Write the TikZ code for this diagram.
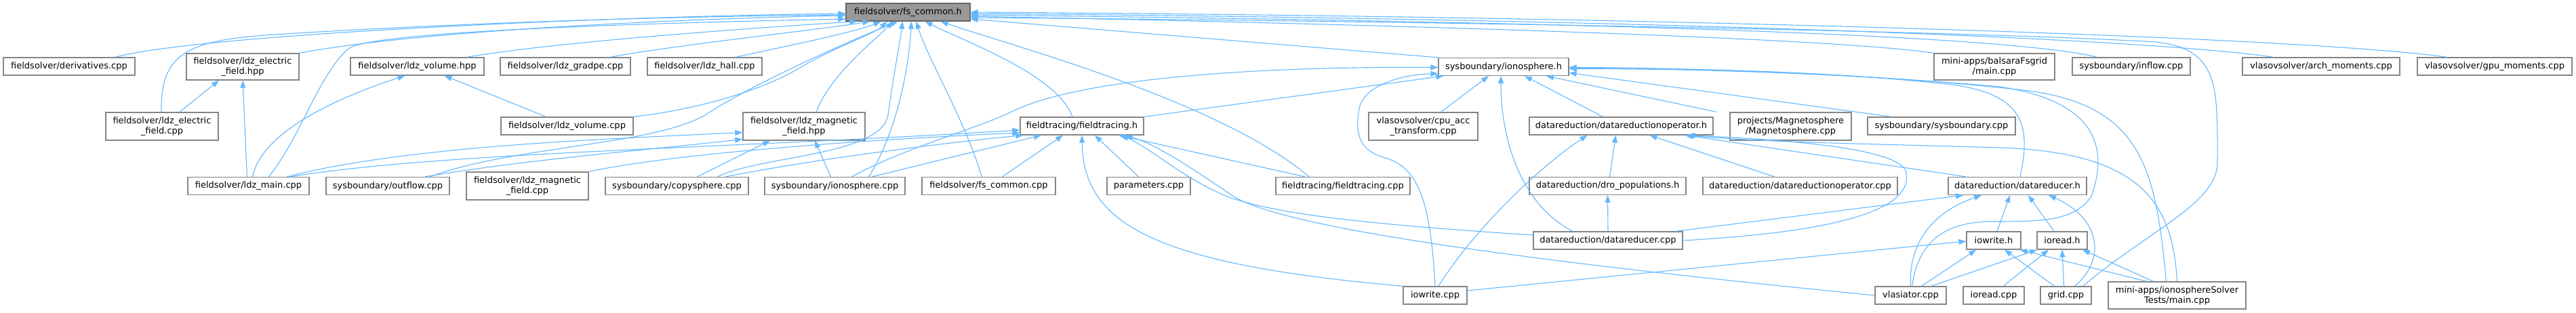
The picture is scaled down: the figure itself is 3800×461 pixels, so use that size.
\documentclass[tikz,border=0pt]{standalone}
\usepackage{fontspec}
\setmainfont{DejaVu Sans}
\usetikzlibrary{arrows.meta}
\definecolor{edgec}{HTML}{63B8FF}
\definecolor{boxb}{HTML}{858585}
\definecolor{rootf}{HTML}{999999}
\definecolor{rootb}{HTML}{666666}
\newcommand{\dxnode}[6]{\node[#1,minimum width=#2pt,minimum height=#3pt] (#4) at (#5) {#6};}
\begin{document}
\begin{tikzpicture}[x=1pt,y=-1pt,
  nd/.style={draw=boxb,line width=1.3pt,fill=white,inner sep=0pt,align=center,font=\fontsize{13}{15}\selectfont},
  rt/.style={nd,fill=rootf,draw=rootb},
  e/.style={draw=edgec,line width=1.1pt,-{Triangle[length=11pt,width=8pt]}}]
\useasboundingbox (0,0) rectangle (3800,461);
\fill[white] (0,0) rectangle (3800,461);
% rank 0
\dxnode{rt}{183}{26}{R}{1339.5,18}{fieldsolver/fs\_common.h}
% rank 1
\dxnode{nd}{194}{26}{d1}{102,98}{fieldsolver/derivatives.cpp}
\dxnode{nd}{166}{39}{d2}{358,98.5}{fieldsolver/ldz\_electric\\\_field.hpp}
\dxnode{nd}{197}{26}{d3}{615.5,98}{fieldsolver/ldz\_volume.hpp}
\dxnode{nd}{192}{26}{d4}{834,98}{fieldsolver/ldz\_gradpe.cpp}
\dxnode{nd}{169}{26}{d5}{1039.5,98}{fieldsolver/ldz\_hall.cpp}
\dxnode{nd}{192}{26}{ioh}{2218,98.5}{sysboundary/ionosphere.h}
\dxnode{nd}{178}{39}{bal}{2942,98.5}{mini-apps/balsaraFsgrid\\/main.cpp}
\dxnode{nd}{174}{26}{inf}{3144,98}{sysboundary/inflow.cpp}
\dxnode{nd}{232}{26}{arch}{3424,98}{vlasovsolver/arch\_moments.cpp}
\dxnode{nd}{228}{26}{gpu}{3680,98}{vlasovsolver/gpu\_moments.cpp}
% rank 2
\dxnode{nd}{166}{41}{efc}{239,186.5}{fieldsolver/ldz\_electric\\\_field.cpp}
\dxnode{nd}{195}{26}{volc}{836.5,186}{fieldsolver/ldz\_volume.cpp}
\dxnode{nd}{180}{41}{mfh}{1186,186.5}{fieldsolver/ldz\_magnetic\\\_field.hpp}
\dxnode{nd}{182}{26}{fth}{1596,186}{fieldtracing/fieldtracing.h}
\dxnode{nd}{161}{41}{cpu}{2099.5,186.5}{vlasovsolver/cpu\_acc\\\_transform.cpp}
\dxnode{nd}{271}{26}{droh}{2391.5,186}{datareduction/datareductionoperator.h}
\dxnode{nd}{179}{41}{mag}{2641.5,186.5}{projects/Magnetosphere\\/Magnetosphere.cpp}
\dxnode{nd}{218}{26}{sbc}{2864,186}{sysboundary/sysboundary.cpp}
% rank 3
\dxnode{nd}{179}{26}{main}{366.5,274.5}{fieldsolver/ldz\_main.cpp}
\dxnode{nd}{182}{26}{outf}{572,274.5}{sysboundary/outflow.cpp}
\dxnode{nd}{180}{41}{mfc}{778,274.5}{fieldsolver/ldz\_magnetic\\\_field.cpp}
\dxnode{nd}{211}{26}{copy}{998.5,274.5}{sysboundary/copysphere.cpp}
\dxnode{nd}{207}{26}{ionc}{1231.5,274.5}{sysboundary/ionosphere.cpp}
\dxnode{nd}{197}{26}{fsc}{1458.5,274.5}{fieldsolver/fs\_common.cpp}
\dxnode{nd}{123}{26}{par}{1694.5,274.5}{parameters.cpp}
\dxnode{nd}{198}{26}{ftc}{1981,274.5}{fieldtracing/fieldtracing.cpp}
\dxnode{nd}{231}{26}{pop}{2371.5,274.5}{datareduction/dro\_populations.h}
\dxnode{nd}{287}{26}{droc}{2655.5,274.5}{datareduction/datareductionoperator.cpp}
\dxnode{nd}{204}{26}{drh}{2976,274.5}{datareduction/datareducer.h}
% rank 4
\dxnode{nd}{220}{26}{drc}{2372,355}{datareduction/datareducer.cpp}
\dxnode{nd}{80}{26}{iwh}{2941,355}{iowrite.h}
\dxnode{nd}{74}{26}{irh}{3042,355}{ioread.h}
% rank 5
\dxnode{nd}{94}{26}{iwc}{2117,436}{iowrite.cpp}
\dxnode{nd}{105}{26}{vla}{2818.5,436}{vlasiator.cpp}
\dxnode{nd}{90}{26}{irc}{2941,436}{ioread.cpp}
\dxnode{nd}{75}{26}{grid}{3047.5,436}{grid.cpp}
\dxnode{nd}{203}{40}{tst}{3211.5,436}{mini-apps/ionosphereSolver\\Tests/main.cpp}
% ---- edges to root
\draw[e] ([xshift=68pt]d1.north) .. controls (300,50) and (900,24) .. ([yshift=-2pt]R.west);
\draw[e] (d2.north east) .. controls (620,45) and (1000,28) .. ([yshift=-5pt]R.west);
\draw[e] ([xshift=-1pt]efc.north) .. controls (236,75) and (280,58) .. (420,50) .. controls (700,33) and (1000,24) .. ([yshift=-4pt]R.west);
\draw[e] ([xshift=30pt]main.north) .. controls (445,200) and (470,110) .. (514,72) .. controls (545,45) and (1000,33) .. ([yshift=-10pt]R.west);
\draw[e] ([xshift=73pt]d3.north) .. controls (820,62) and (1100,42) .. ([xshift=-75pt]R.south);
\draw[e] ([xshift=66pt]d4.north) .. controls (1000,66) and (1200,45) .. ([xshift=-56pt]R.south);
\draw[e] ([xshift=46pt]d5.north) .. controls (1150,70) and (1260,48) .. ([xshift=-40pt]R.south);
\draw[e] (volc.north east) .. controls (1040,160) and (1130,130) .. (1180,100) .. controls (1230,70) and (1290,50) .. ([xshift=-31pt]R.south);
\draw[e] ([xshift=18pt]mfh.north) .. controls (1225,110) and (1290,60) .. ([xshift=-22pt]R.south);
\draw[e] ([xshift=62pt]outf.north) .. controls (760,215) and (960,215) .. (1040,170) .. controls (1100,130) and (1230,70) .. ([xshift=-15pt]R.south);
\draw[e] ([xshift=60pt]copy.north) .. controls (1120,230) and (1300,230) .. (1310,170) .. controls (1318,110) and (1328,60) .. ([xshift=-8pt]R.south);
\draw[e] ([xshift=50pt]ionc.north) .. controls (1320,200) and (1340,110) .. ([xshift=5pt]R.south);
\draw[e] ([xshift=-10pt]fsc.north) .. controls (1420,170) and (1370,90) .. ([xshift=12pt]R.south);
\draw[e] ([xshift=-14pt]fth.north) .. controls (1560,110) and (1420,60) .. ([xshift=25pt]R.south);
\draw[e] ([xshift=-50pt]ftc.north) .. controls (1800,150) and (1500,70) .. ([xshift=48pt]R.south);
\draw[e] (ioh.north west) -- ([yshift=-10pt]R.east);
\draw[e] (bal.north west) .. controls (2700,55) and (2000,35) .. ([yshift=-6pt]R.east);
\draw[e] ([xshift=-50pt]inf.north) .. controls (2950,50) and (2300,32) .. ([yshift=-4pt]R.east);
\draw[e] ([xshift=-70pt]arch.north) .. controls (3150,55) and (2400,28) .. ([yshift=-2pt]R.east);
\draw[e] ([xshift=-70pt]gpu.north) .. controls (3400,55) and (2500,25) .. ([yshift=0pt]R.east);
\draw[e] ([xshift=25pt]grid.north) .. controls (3170,340) and (3271,300) .. (3271,240) .. controls (3271,130) and (3275,72) .. (3180,62) .. controls (2900,45) and (2000,30) .. ([yshift=-8pt]R.east);
% ---- d2, d3
\draw[e] ([xshift=26pt]efc.north) -- ([xshift=-35pt]d2.south);
\draw[e] ([xshift=-2pt]main.north) -- ([xshift=0pt]d2.south);
\draw[e] ([xshift=-31pt]volc.north) -- ([xshift=40pt]d3.south);
\draw[e] ([xshift=6pt]main.north) .. controls (385,200) and (480,150) .. ([xshift=-18pt]d3.south);
% ---- mfh
\draw[e] ([xshift=57pt]main.north) .. controls (600,215) and (900,205) .. ([yshift=-9pt]mfh.west);
\draw[e] ([xshift=55pt]outf.north) .. controls (780,235) and (950,222) .. ([yshift=-19pt]mfh.west);
\draw[e] ([xshift=30pt]copy.north) -- ([xshift=-50pt]mfh.south);
\draw[e] ([xshift=-6pt]ionc.north) -- ([xshift=16pt]mfh.south);
% ---- fth
\draw[e] ([xshift=62pt]main.north) .. controls (650,225) and (1050,220) .. ([yshift=-6pt]fth.west);
\draw[e] (mfc.north east) .. controls (1000,225) and (1300,205) .. ([yshift=-10pt]fth.west);
\draw[e] ([xshift=72pt]copy.north) .. controls (1200,235) and (1400,210) .. ([xshift=5pt]fth.south west);
\draw[e] ([xshift=55pt]ionc.north) -- ([xshift=-60pt]fth.south);
\draw[e] ([xshift=20pt]fsc.north) -- ([xshift=-28pt]fth.south);
\draw[e] ([xshift=-15pt]par.north) -- ([xshift=19pt]fth.south);
\draw[e] ([xshift=-56pt]ftc.north) -- ([xshift=54pt]fth.south);
\draw[e] ([yshift=8pt]drc.west) .. controls (2000,330) and (1880,315) .. (1810,290) .. controls (1740,260) and (1700,220) .. ([xshift=58pt]fth.south);
\draw[e] (vla.west) .. controls (2300,390) and (1900,340) .. (1820,290) .. controls (1760,250) and (1710,215) .. ([xshift=64pt]fth.south);
\draw[e] (iwc.north west) .. controls (1700,390) and (1598,330) .. ([xshift=0pt]fth.south);
% ---- ionosphere.h
\draw[e] (fth.north east) -- ([xshift=8pt]ioh.south west);
\draw[e] ([xshift=25pt]ionc.north) .. controls (1330,220) and (1440,190) .. (1490,166) .. controls (1600,110) and (1900,98) .. ([yshift=-1pt]ioh.west);
\draw[e] (iwc.north) .. controls (2110,290) and (2090,245) .. (2040,232) .. controls (2000,220) and (2000,190) .. (2005,160) .. controls (2012,125) and (2070,110) .. ([yshift=-10pt]ioh.west);
\draw[e] ([xshift=26pt]cpu.north) -- ([xshift=-22pt]ioh.south);
\draw[e] ([xshift=-52pt]drc.north) .. controls (2240,300) and (2214,200) .. ([xshift=-4pt]ioh.south);
\draw[e] ([xshift=-27pt]droh.north) -- ([xshift=31pt]ioh.south);
\draw[e] ([xshift=-109pt]mag.north) -- ([xshift=63pt]ioh.south);
\draw[e] ([xshift=-74pt]sbc.north) -- ([yshift=-9pt]ioh.east);
\draw[e] ([xshift=4pt]drh.north) .. controls (2995,190) and (2990,140) .. (2880,125) .. controls (2700,105) and (2500,101) .. ([yshift=-2pt]ioh.east);
\draw[e] ([xshift=2pt]vla.north) .. controls (2830,355) and (2870,327) .. (2940,327) .. controls (3020,327) and (3060,325) .. (3085,290) .. controls (3110,220) and (3095,150) .. (2950,128) .. controls (2750,110) and (2500,100) .. ([yshift=-1pt]ioh.east);
\draw[e] ([xshift=-16pt]tst.north) .. controls (3180,250) and (3160,160) .. (3000,135) .. controls (2800,110) and (2500,101) .. ([yshift=-3pt]ioh.east);
% ---- datareductionoperator.h
\draw[e] ([xshift=0pt]tst.north) .. controls (3205,300) and (3160,225) .. (2950,218) .. controls (2750,212) and (2600,210) .. ([xshift=-40pt]droh.south east);
\draw[e] ([xshift=3pt]pop.north) -- ([xshift=-8pt]droh.south);
\draw[e] ([xshift=-38pt]droc.north) -- ([xshift=42pt]droh.south);
\draw[e] ([xshift=-76pt]drh.north) -- ([xshift=-42pt]droh.south east);
\draw[e] (drc.east) .. controls (2750,340) and (2820,300) .. (2812,255) .. controls (2805,215) and (2600,205) .. ([xshift=-38pt]droh.south east);
\draw[e] ([xshift=5pt]iwc.north) .. controls (2180,330) and (2280,240) .. ([xshift=-50pt]droh.south);
% ---- dro_populations.h
\draw[e] (drc.north) -- (pop.south);
% ---- datareducer.h
\draw[e] ([xshift=100pt]drc.north) -- ([xshift=-80pt]drh.south);
\draw[e] (vla.north) .. controls (2815,350) and (2860,310) .. ([xshift=-53pt]drh.south);
\draw[e] ([xshift=5pt]iwh.north) -- ([xshift=-11pt]drh.south);
\draw[e] ([xshift=-12pt]irh.north) -- ([xshift=16pt]drh.south);
\draw[e] ([xshift=13pt]grid.north) .. controls (3110,380) and (3095,320) .. ([xshift=46pt]drh.south);
% ---- iowrite.h
\draw[e] ([yshift=7pt]iwc.east) -- ([yshift=-1pt]iwh.west);
\draw[e] ([xshift=16pt]vla.north) -- ([xshift=-26pt]iwh.south);
\draw[e] ([xshift=-17pt]grid.north) -- ([xshift=16pt]iwh.south);
\draw[e] ([xshift=-45pt]tst.north) -- ([xshift=-2pt]iwh.south east);
% ---- ioread.h
\draw[e] ([xshift=30pt]vla.north) -- ([xshift=-37pt]irh.south);
\draw[e] ([xshift=14pt]irc.north) -- ([xshift=-20pt]irh.south);
\draw[e] ([xshift=-3pt]grid.north) -- (irh.south);
\draw[e] ([xshift=-35pt]tst.north) -- ([xshift=30pt]irh.south);
\end{tikzpicture}
\end{document}
